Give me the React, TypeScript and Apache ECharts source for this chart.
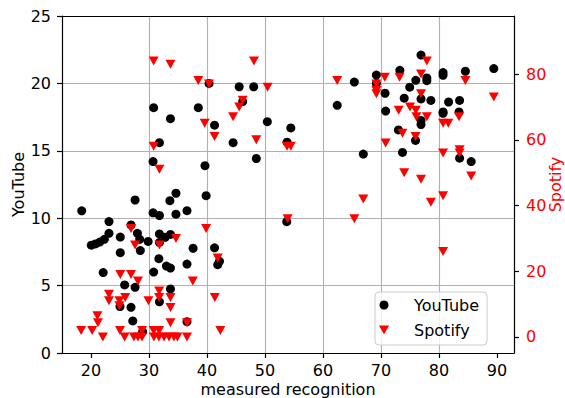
import { useEffect, useRef } from "react";
import * as echarts from "echarts";

const youtubeRecognition = [
  18.4, 30.7, 27.6, 34.65, 33.6, 30.7, 31.8, 34.65, 23.1, 23.1, 22.3, 21.5, 20.75, 20.05, 25.05, 28.0, 28.4, 29.85, 31.8, 31.8,
  32.8, 33.7, 25.05, 28.5, 31.7, 39.85, 36.55, 26.9, 37.6, 41.3, 33.0, 33.7, 36.55, 30.8, 22.1, 41.85, 42.15, 25.8, 27.6, 33.7,
  25.0, 26.9, 31.8, 27.2, 36.55, 28.9, 48.5, 39.65, 53.75, 40.35, 45.55, 48.05, 30.8, 38.5, 46.15, 33.7, 41.3, 50.4, 54.45, 31.8,
  44.5, 53.8, 62.45, 65.4, 66.95, 69.2, 69.2, 70.7, 70.8, 73.25, 74.0, 73.0, 73.7, 76.0, 74.95, 76.9, 77.9, 77.9, 76.9, 78.6,
  76.9, 76.9, 75.95, 80.7, 80.7, 81.65, 83.55, 80.7, 80.7, 83.45, 84.55, 89.45, 83.55, 85.55,
];
const youtubeViews = [
  10.55, 14.2, 11.35, 11.85, 11.3, 10.4, 10.2, 10.3, 9.75, 8.88, 8.43, 8.23, 8.09, 8.0, 8.6, 8.88, 8.43, 8.28, 8.83, 8.2,
  8.58, 8.8, 7.44, 7.6, 7.0, 11.67, 10.56, 9.5, 7.77, 7.8, 6.45, 6.3, 6.6, 6.0, 5.97, 6.55, 6.8, 5.05, 4.87, 4.75,
  3.45, 3.39, 3.8, 2.38, 2.32, 1.57, 14.43, 13.9, 9.74, 20.0, 19.75, 19.75, 18.2, 18.2, 18.65, 17.38, 16.9, 17.16, 16.7, 15.6,
  15.6, 15.64, 18.37, 20.1, 14.76, 20.62, 20.0, 19.27, 17.95, 20.97, 18.9, 16.55, 14.88, 20.23, 19.72, 22.1, 20.4, 20.2, 18.85, 18.74,
  17.25, 16.95, 15.77, 20.8, 20.6, 18.62, 18.74, 17.88, 17.78, 17.88, 20.9, 21.1, 14.45, 14.2,
];
const spotifyRecognition = [
  30.8, 33.7, 38.5, 40.35, 48.1, 46.15, 45.55, 44.5, 39.6, 41.3, 48.5, 30.8, 31.8, 50.45, 53.8, 54.45, 62.45, 69.2, 69.2, 69.2,
  70.65, 73.2, 77.9, 76.9, 76.9, 84.55, 89.45, 73.05, 75.0, 76.0, 76.1, 77.9, 80.7, 81.6, 83.45, 73.7, 75.95, 70.8, 80.7, 83.55,
  83.55, 74.0, 76.9, 85.55, 66.95, 78.6, 80.7, 65.4, 53.9, 80.7, 39.85, 26.9, 27.6, 31.8, 34.65, 41.85, 37.55, 25.05, 26.9, 28.1,
  23.1, 23.1, 24.9, 25.9, 29.9, 31.75, 31.75, 33.7, 33.7, 24.9, 41.35, 21.1, 21.2, 18.3, 20.2, 22.05, 25.0, 25.8, 27.4, 28.1,
  28.8, 28.8, 30.8, 31.75, 30.85, 31.7, 32.6, 33.45, 34.3, 34.9, 33.7, 36.55, 36.55, 42.3,
];
const spotifyPopularity = [
  84, 83, 78, 77, 84, 72, 70, 67, 65, 61, 60, 58, 51, 76, 58, 58, 78, 77, 75, 74,
  79, 79, 84, 80, 74, 78, 73, 69, 70, 69, 67, 67, 65, 65, 67, 62, 61, 59, 56, 57,
  56, 50, 48, 49, 42, 41, 43, 36, 36, 26, 33, 33, 28, 28, 30, 24, 17, 19, 19, 17,
  13, 11, 11, 12, 11, 14, 12, 12, 9, 9.5, 12, 6.5, 4.3, 2, 2, 0, 2, 0, 0, 0,
  0, 2, 2, 2, 0, 0, 0, 0, 0, 0, 4.3, 4.3, 0, 2,
];
const xTicks = [20, 30, 40, 50, 60, 70, 80, 90];
const spotifyTicks = [0, 20, 40, 60, 80];

const FONT = "DejaVu Sans";
const SPINE = { color: "#000000", width: 1.2 };
const DOWN_TRIANGLE = "path://M0,0L10,0L5,9Z";

export default function App() {
  const ref = useRef<HTMLDivElement>(null);
  useEffect(() => {
    const chart = echarts.init(ref.current!, null, { renderer: "svg" });
    const ytData = youtubeRecognition.map((x, i) => [x, youtubeViews[i]]);
    const spData = spotifyRecognition.map((x, i) => [x, spotifyPopularity[i]]);
    chart.setOption({
      animation: false,
      backgroundColor: "#ffffff",
      textStyle: { fontFamily: FONT },
      grid: { left: 62, right: 51, top: 16, bottom: 45, containLabel: false, outerBoundsMode: "none" },
      legend: {
        orient: "vertical",
        left: 375,
        top: 292,
        padding: [5, 8, 7, 4],
        itemWidth: 38,
        itemHeight: 9,
        itemGap: 9,
        symbolKeepAspect: true,
        backgroundColor: "rgba(255,255,255,0.8)",
        borderColor: "#cccccc",
        borderWidth: 1,
        borderRadius: 4,
        selectedMode: false,
        textStyle: { fontSize: 16, color: "#000000", fontFamily: FONT, padding: [0, 0, 0, 6] },
        data: [
          { name: "YouTube", icon: "circle" },
          { name: "Spotify", icon: DOWN_TRIANGLE, symbolRotate: 0 },
        ],
        z: 10,
      },
      xAxis: [
        {
          type: "value",
          min: 15.0,
          max: 92.93,
          splitNumber: 8,
          name: "measured recognition",
          nameLocation: "middle",
          nameGap: 28,
          nameMoveOverlap: false,
          nameTextStyle: { fontSize: 16, color: "#000000", fontFamily: FONT },
          axisLine: { show: true, onZero: false, lineStyle: SPINE },
          axisTick: { show: true, length: 5, lineStyle: SPINE, customValues: xTicks },
          axisLabel: { fontSize: 16, color: "#000000", margin: 9, fontFamily: FONT, customValues: xTicks },
          splitLine: { show: true, showMinLine: false, showMaxLine: false, lineStyle: { color: "#b0b0b0", width: 1.1 } },
        },
        {
          type: "value",
          position: "top",
          min: 15.0,
          max: 92.93,
          axisLine: { show: true, onZero: false, lineStyle: SPINE },
          axisTick: { show: false },
          axisLabel: { show: false },
          splitLine: { show: false },
        },
      ],
      yAxis: [
        {
          type: "value",
          position: "left",
          min: 0,
          max: 25,
          interval: 5,
          name: "YouTube",
          nameLocation: "middle",
          nameRotate: 90,
          nameGap: 36,
          nameMoveOverlap: false,
          nameTextStyle: { fontSize: 16, color: "#000000", fontFamily: FONT },
          axisLine: { show: true, onZero: false, lineStyle: SPINE },
          axisTick: { show: true, length: 5, lineStyle: SPINE },
          axisLabel: { fontSize: 16, color: "#000000", margin: 11, fontFamily: FONT },
          splitLine: { show: true, showMinLine: false, showMaxLine: false, lineStyle: { color: "#b0b0b0", width: 1.1 } },
        },
        {
          type: "value",
          position: "right",
          min: -4.87,
          max: 97.66,
          splitNumber: 5,
          name: "Spotify",
          nameLocation: "middle",
          nameRotate: 90,
          nameGap: 33,
          nameMoveOverlap: false,
          nameTextStyle: { fontSize: 16, color: "#ff0000", fontFamily: FONT },
          axisLine: { show: true, onZero: false, lineStyle: SPINE },
          axisTick: { show: true, length: 5, lineStyle: SPINE, customValues: spotifyTicks },
          axisLabel: { fontSize: 16, color: "#ff0000", margin: 12, fontFamily: FONT, customValues: spotifyTicks },
          splitLine: { show: false },
        },
      ],
      series: [
        {
          name: "YouTube",
          type: "scatter",
          xAxisIndex: 0,
          yAxisIndex: 0,
          data: ytData,
          symbol: "circle",
          symbolSize: 9,
          itemStyle: { color: "#000000", opacity: 1 },
          z: 2,
        },
        {
          name: "Spotify",
          type: "scatter",
          xAxisIndex: 0,
          yAxisIndex: 1,
          data: spData,
          symbol: "triangle",
          symbolRotate: 180,
          symbolSize: [10, 9],
          itemStyle: { color: "#ff0000", opacity: 1 },
          z: 3,
        },
      ],
    });
    return () => chart.dispose();
  }, []);
  return <div ref={ref} style={{ position: "fixed", left: 0, top: 0, width: 565, height: 398 }} />;
}
